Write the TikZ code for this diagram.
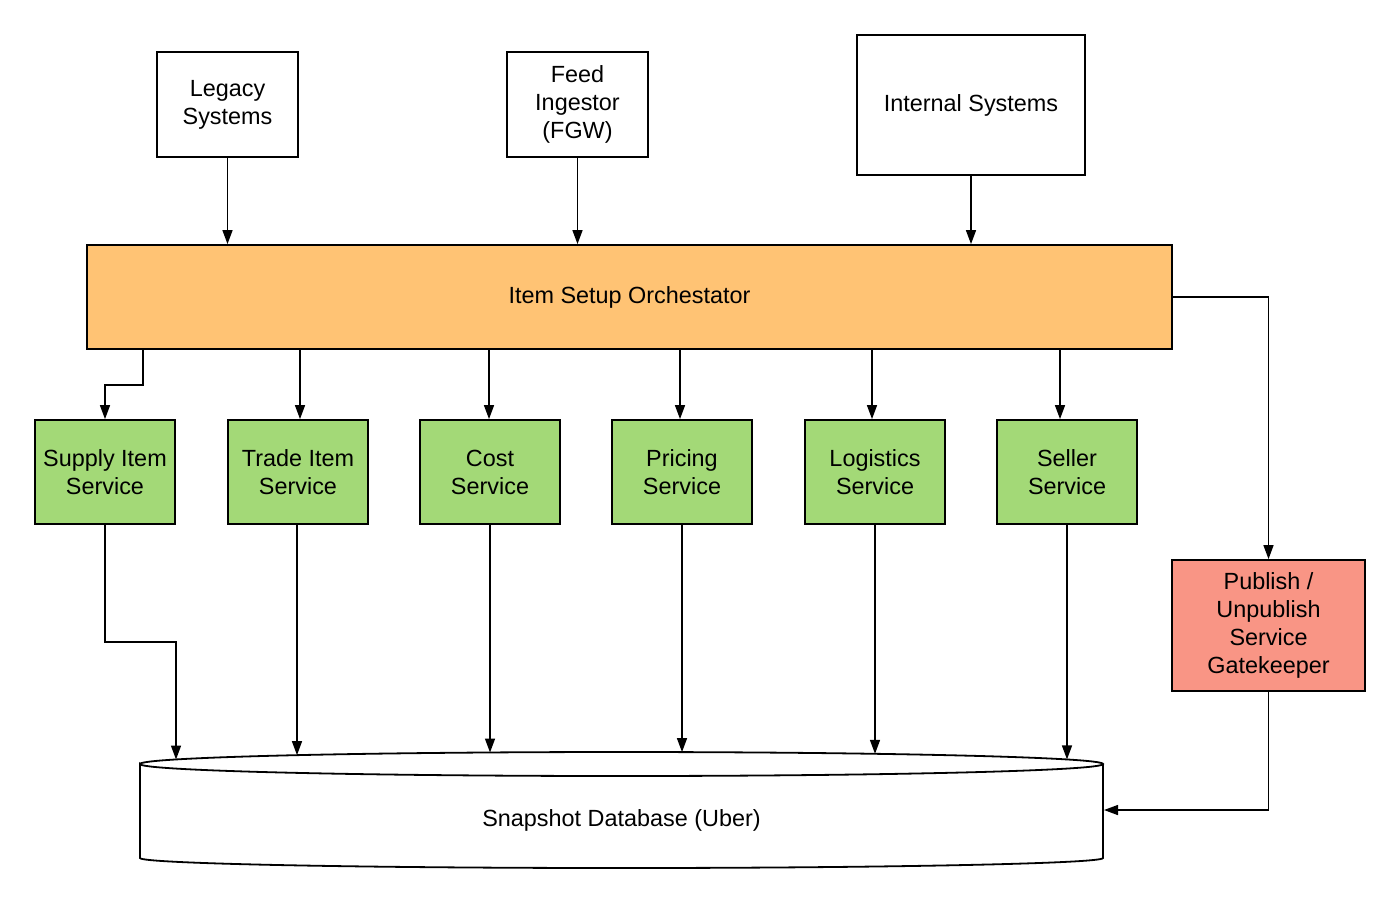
\documentclass[tikz,border=0pt]{standalone}
\usepackage{fontspec}
\setmainfont{Liberation Sans}
\usetikzlibrary{arrows.meta}
\definecolor{orchfill}{HTML}{FFC374}
\definecolor{svcfill}{HTML}{A3D977}
\definecolor{pubfill}{HTML}{F99585}
\begin{document}
\begin{tikzpicture}[x=0.5pt,y=-0.5pt,
  box/.style={draw=black,line width=0.9pt,inner sep=0pt,align=center,
    font=\fontsize{11.7}{14}\selectfont},
  srcbox/.style={box,fill=white,minimum width=70.5pt,minimum height=52.5pt},
  svcbox/.style={box,fill=svcfill,minimum width=70pt,minimum height=52pt},
  arr/.style={draw=black,line width=0.75pt,-{Triangle[length=7pt,width=5pt]}},
  cyl/.style={draw=black,line width=0.9pt,fill=white}]
\useasboundingbox (0,0) rectangle (1400,905);
% sources
\node[srcbox] (leg) at (227.5,104.5) {Legacy\\Systems};
\node[srcbox] (feed) at (577.5,104.5) {Feed\\Ingestor\\(FGW)};
\node[box,fill=white,minimum width=114pt,minimum height=70pt] (int) at (971,105) {Internal Systems};
% orchestrator
\node[box,fill=orchfill,minimum width=542.5pt,minimum height=52pt] (orch) at (629.5,297) {Item Setup Orchestator};
% services
\node[svcbox] (sup) at (105,472) {Supply Item\\Service};
\node[svcbox] (trade) at (298,472) {Trade Item\\Service};
\node[svcbox] (cost) at (490,472) {Cost\\Service};
\node[svcbox] (price) at (682,472) {Pricing\\Service};
\node[svcbox] (logi) at (875,472) {Logistics\\Service};
\node[svcbox] (sell) at (1067,472) {Seller\\Service};
\node[box,fill=pubfill,minimum width=96.5pt,minimum height=65.5pt] (pub) at (1268.5,625.5) {Publish /\\Unpublish\\Service\\Gatekeeper};
% database cylinder
\draw[cyl] (140,764) arc[start angle=180,end angle=0,x radius=240.75pt,y radius=6pt]
  arc[start angle=0,end angle=-180,x radius=240.75pt,y radius=6pt]
  -- (140,858) arc[start angle=180,end angle=360,x radius=240.75pt,y radius=5pt]
  -- (1103,764);
\node[font=\fontsize{11.7}{14}\selectfont] (db) at (621.5,820) {Snapshot Database (Uber)};
\coordinate (d1) at (176,759.5);
\coordinate (d2) at (297,755.1);
\coordinate (d3) at (490,752.5);
\coordinate (d4) at (682,752.1);
\coordinate (d5) at (875,753.8);
\coordinate (d6) at (1067,759.4);
\coordinate (d7) at (1104,810);
% inputs
\draw[arr] (leg.south) -- (leg |- orch.north);
\draw[arr] (feed.south) -- (feed |- orch.north);
\draw[arr] (int.south) -- (int |- orch.north);
% orchestrator to services
\draw[arr] (143,0 |- orch.south) -- (143,385) -| (sup.north);
\draw[arr] (300,0 |- orch.south) -- (300,0 |- trade.north);
\draw[arr] (489,0 |- orch.south) -- (489,0 |- cost.north);
\draw[arr] (680,0 |- orch.south) -- (680,0 |- price.north);
\draw[arr] (872,0 |- orch.south) -- (872,0 |- logi.north);
\draw[arr] (1060,0 |- orch.south) -- (1060,0 |- sell.north);
\draw[arr] (orch.east) -| (pub.north);
% services to database
\draw[arr] (sup.south) -- (105,642) -| (d1);
\draw[arr] (trade.south -| d2) -- (d2);
\draw[arr] (cost.south) -- (d3);
\draw[arr] (price.south) -- (d4);
\draw[arr] (logi.south) -- (d5);
\draw[arr] (sell.south) -- (d6);
\draw[arr] (pub.south) |- (d7);
\end{tikzpicture}
\end{document}
